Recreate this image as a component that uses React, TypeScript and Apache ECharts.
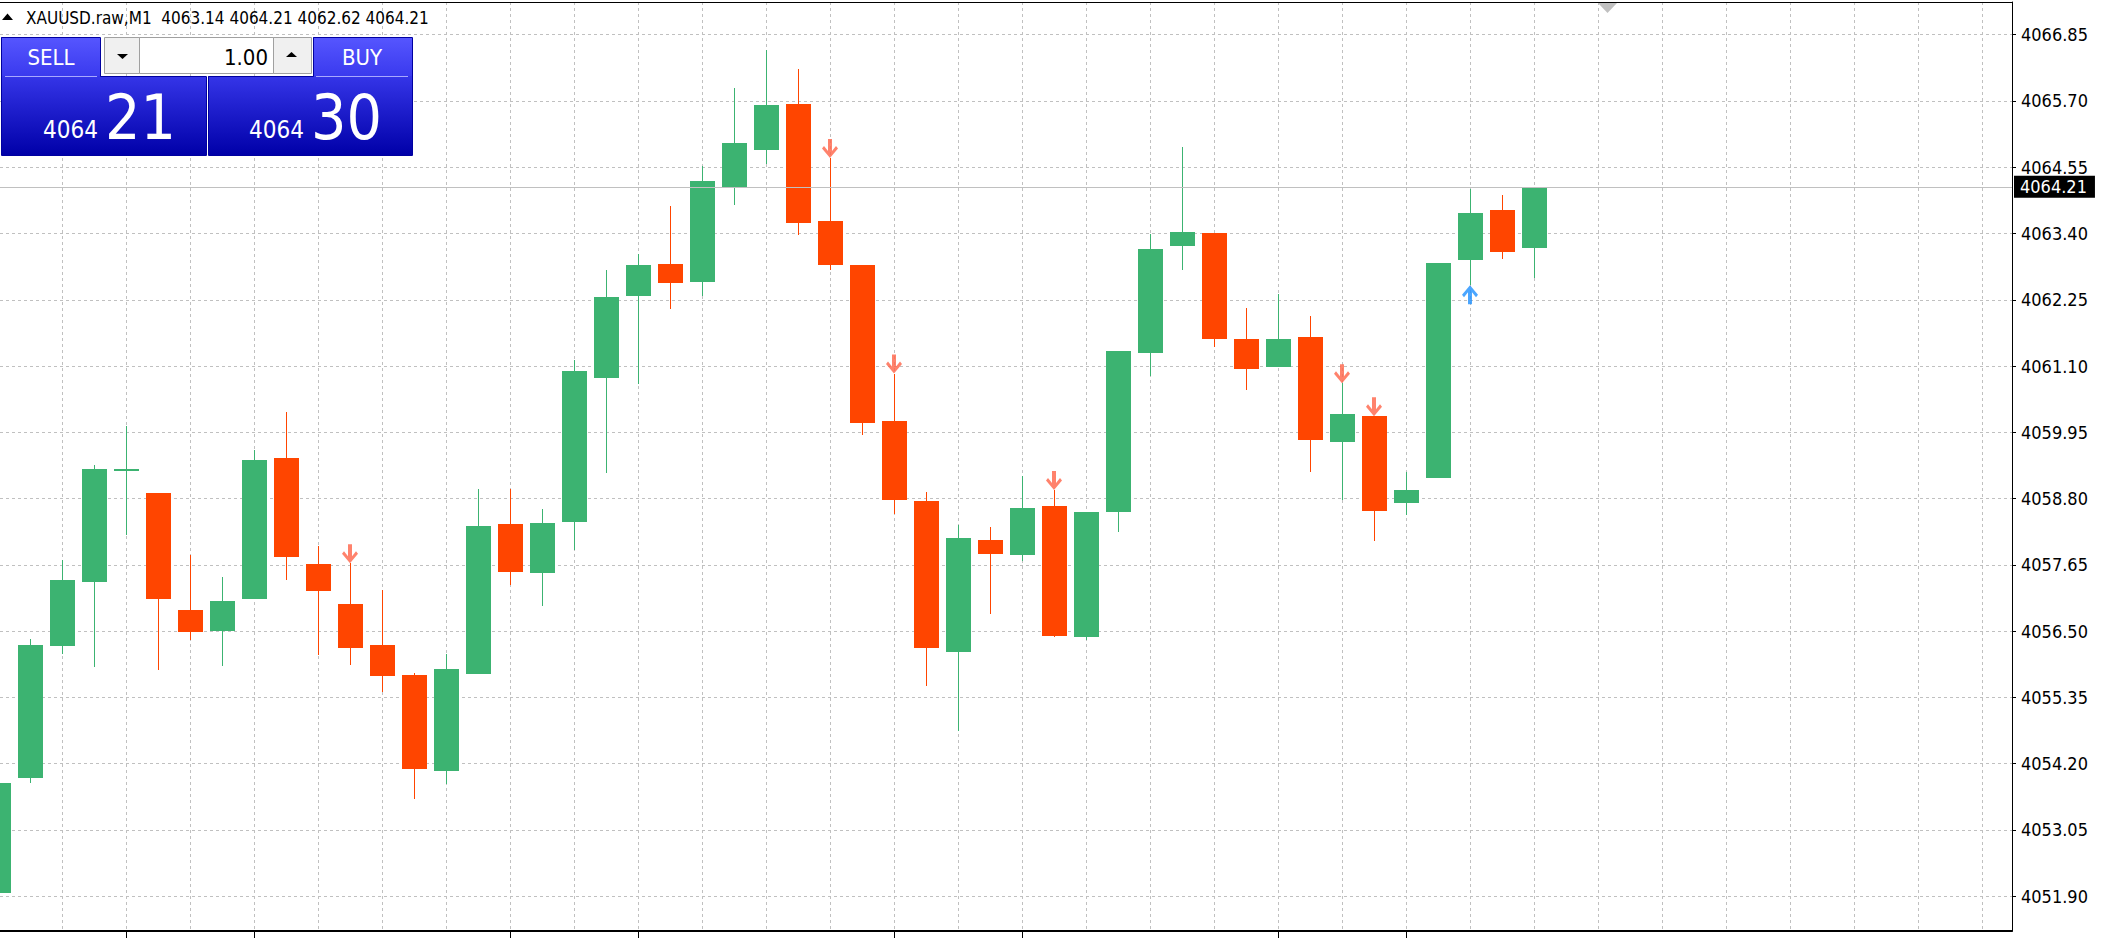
import React, { useEffect, useRef } from "react";
import * as echarts from "echarts";

// ---------- data ----------
const SYMBOL = "XAUUSD.raw";
const PERIOD = "M1";

const OPEN = [
  4051.95, 4053.95, 4056.25, 4057.36, 4059.30, 4058.90, 4056.87, 4056.51, 4057.06, 4059.51,
  4057.67, 4056.97, 4056.26, 4055.74, 4054.08, 4055.76, 4058.36, 4057.51, 4058.40, 4060.89,
  4062.32, 4062.87, 4062.56, 4064.21, 4064.85, 4065.65, 4063.62, 4062.85, 4060.15, 4058.75,
  4056.14, 4058.08, 4057.83, 4058.67, 4056.40, 4058.57, 4061.33, 4063.18, 4063.41, 4061.57,
  4061.08, 4061.60, 4059.78, 4060.23, 4058.72, 4059.16, 4062.94, 4063.81, 4063.14,
];
const HIGH = [
  4053.90, 4056.37, 4057.73, 4059.38, 4060.06, 4058.90, 4057.82, 4057.44, 4059.64, 4060.30,
  4057.98, 4057.68, 4057.22, 4055.78, 4056.11, 4058.97, 4058.97, 4058.62, 4061.21, 4062.77,
  4063.04, 4063.88, 4064.57, 4065.93, 4066.58, 4066.25, 4064.71, 4062.85, 4060.97, 4058.91,
  4058.34, 4058.31, 4059.19, 4058.95, 4058.57, 4061.36, 4063.40, 4064.90, 4063.41, 4062.11,
  4062.35, 4061.97, 4060.80, 4060.23, 4059.26, 4062.89, 4064.17, 4064.07, 4064.21,
];
const LOW = [
  4051.88, 4053.86, 4056.11, 4055.87, 4058.17, 4055.83, 4056.35, 4055.89, 4057.06, 4057.39,
  4056.09, 4055.92, 4055.45, 4053.58, 4053.85, 4055.76, 4057.30, 4056.94, 4057.90, 4059.24,
  4060.78, 4062.09, 4062.32, 4063.90, 4064.61, 4063.38, 4062.77, 4059.90, 4058.53, 4055.55,
  4054.77, 4056.80, 4057.72, 4056.39, 4056.35, 4058.22, 4060.92, 4062.77, 4061.43, 4060.68,
  4061.08, 4059.26, 4058.78, 4058.06, 4058.52, 4059.16, 4062.50, 4062.96, 4062.62,
];
const CLOSE = [
  4053.87, 4056.26, 4057.39, 4059.31, 4059.31, 4057.06, 4056.49, 4057.03, 4059.47, 4057.79,
  4057.20, 4056.21, 4055.73, 4054.10, 4055.85, 4058.33, 4057.53, 4058.38, 4061.01, 4062.30,
  4062.85, 4062.54, 4064.31, 4064.97, 4065.63, 4063.58, 4062.85, 4060.11, 4058.78, 4056.21,
  4058.12, 4057.84, 4058.64, 4056.42, 4058.57, 4061.36, 4063.13, 4063.43, 4061.57, 4061.05,
  4061.57, 4059.82, 4060.27, 4058.59, 4058.95, 4062.89, 4063.76, 4063.08, 4064.21,
];

// signal arrows (candle indices): sell arrows sit on the high, buy arrows under the low
const SELL_ARROWS = [11, 26, 28, 33, 42, 43];
const BUY_ARROWS = [46];

const PRICE_TICKS = [
  4051.9, 4053.05, 4054.2, 4055.35, 4056.5, 4057.65, 4058.8,
  4059.95, 4061.1, 4062.25, 4063.4, 4064.55, 4065.7, 4066.85,
];
const TIME_TICKS = [4, 8, 16, 20, 28, 32, 40, 44];
const GRID_COLS = Array.from({ length: 32 }, (_, k) => k * 2);

const BID = 4064.21;
const ASK = 4064.3;
const LOT = 1.0;

const Y_MIN = 4051.297;
const Y_MAX = 4067.417;
const X_MIN = 0.0625;
const X_MAX = 62.9375;

// ---------- style ----------
const GREEN = "#3CB371";
const RED = "#FF4500";
const GRID_COLOR = "#C0C0C0";
const FONT = "'DejaVu Sans Condensed', 'DejaVu Sans', sans-serif";
const BIG_FONT = "'Liberation Sans Narrow', 'DejaVu Sans Condensed', sans-serif";

const DOWN_ARROW = "path://M6 0L10 0L10 12L14 7L16 9.5L8 19L0 9.5L2 7L6 12Z";
const UP_ARROW = "path://M6 19L10 19L10 7L14 12L16 9.5L8 0L0 9.5L2 12L6 7Z";

function splitPrice(p: number): [string, string] {
  const s = p.toFixed(2).split(".");
  return [s[0], s[1]];
}

function buildOption(): any {
  const candles = OPEN.map((o, i) => [i, o, CLOSE[i], LOW[i], HIGH[i]]);
  const last = OPEN.length - 1;
  const title =
    `${SYMBOL},${PERIOD}  ${OPEN[last].toFixed(2)} ${HIGH[last].toFixed(2)} ` +
    `${LOW[last].toFixed(2)} ${CLOSE[last].toFixed(2)}`;
  const [bidBig, bidSmall] = splitPrice(BID);
  const [askBig, askSmall] = splitPrice(ASK);

  const tabGrad = () =>
    new echarts.graphic.LinearGradient(0, 0, 0, 1, [
      { offset: 0, color: "#5656FF" },
      { offset: 1, color: "#3A3AEE" },
    ]);
  const blockGrad = () =>
    new echarts.graphic.LinearGradient(0, 0, 0, 1, [
      { offset: 0, color: "#3535E8" },
      { offset: 1, color: "#0000A8" },
    ]);

  const white = "#FFFFFF";

  return {
    animation: false,
    backgroundColor: "#FFFFFF",
    grid: { left: 0, right: 93, top: 2, bottom: 7, containLabel: false, outerBoundsMode: "none" },
    xAxis: [
      {
        type: "value",
        min: X_MIN,
        max: X_MAX,
        position: "bottom",
        axisLine: { show: true, onZero: false, lineStyle: { color: "#000", width: 2 } },
        axisTick: {
          show: true,
          customValues: TIME_TICKS,
          length: 7,
          lineStyle: { color: "#000", width: 1 },
        },
        axisLabel: { show: false },
        splitLine: { show: false },
      },
      {
        type: "value",
        min: X_MIN,
        max: X_MAX,
        position: "top",
        axisLine: { show: true, onZero: false, lineStyle: { color: "#000", width: 1 } },
        axisTick: { show: false, customValues: GRID_COLS },
        axisLabel: { show: false },
        splitLine: { show: true, lineStyle: { color: GRID_COLOR, type: [3, 3], width: 1 } },
      },
    ],
    yAxis: {
      type: "value",
      position: "right",
      min: Y_MIN,
      max: Y_MAX,
      axisLine: { show: true, onZero: false, lineStyle: { color: "#000", width: 1 } },
      axisTick: {
        show: true,
        customValues: PRICE_TICKS,
        length: 4,
        lineStyle: { color: "#000", width: 1 },
      },
      axisLabel: {
        show: true,
        customValues: PRICE_TICKS,
        formatter: (v: number) => v.toFixed(2),
        color: "#000",
        fontSize: 18,
        fontFamily: FONT,
        margin: 9,
      },
      splitLine: { show: true, lineStyle: { color: GRID_COLOR, type: [3, 3], width: 1 } },
    },
    series: [
      {
        type: "custom",
        name: "candles",
        xAxisIndex: 0,
        yAxisIndex: 0,
        clip: false,
        dimensions: ["i", "open", "close", "low", "high"],
        encode: { x: 0, y: [1, 2, 3, 4] },
        data: candles,
        z: 3,
        renderItem: (params: any, api: any) => {
          const i = api.value(0);
          const o = api.value(1);
          const c = api.value(2);
          const l = api.value(3);
          const h = api.value(4);
          const pO = api.coord([i, o]);
          const pC = api.coord([i, c]);
          const pH = api.coord([i, h]);
          const pL = api.coord([i, l]);
          const cx = Math.round(pO[0]);
          const band = api.size([1, 0])[0];
          const bw = Math.round(band * 0.78);
          const color = c >= o ? GREEN : RED;
          const top = Math.round(Math.min(pO[1], pC[1]));
          const bot = Math.round(Math.max(pO[1], pC[1]));
          const bh = Math.max(bot - top, 2);
          const wy = Math.round(pH[1]);
          const wh = Math.max(Math.round(pL[1]) - wy, 1);
          return {
            type: "group",
            children: [
              { type: "rect", shape: { x: cx, y: wy, width: 1, height: wh }, style: { fill: color } },
              {
                type: "rect",
                shape: { x: cx - Math.floor(bw / 2), y: top, width: bw, height: bh },
                style: { fill: color },
              },
            ],
          };
        },
        markLine: {
          silent: true,
          animation: false,
          symbol: ["none", "none"],
          data: [{ yAxis: BID }],
          lineStyle: { color: GRID_COLOR, type: "solid", width: 1 },
          label: {
            show: true,
            position: "end",
            distance: 2,
            formatter: () => BID.toFixed(2),
            backgroundColor: "#000",
            color: "#FFF",
            fontSize: 18,
            fontFamily: FONT,
            padding: [2, 8, 2, 6],
          },
        },
      },
      {
        type: "scatter",
        name: "sell signals",
        xAxisIndex: 0,
        clip: false,
        z: 4,
        symbol: DOWN_ARROW,
        symbolSize: [16, 19],
        symbolOffset: [0, -9.5],
        itemStyle: { color: "#FF6347" },
        data: SELL_ARROWS.map((i) => [i, HIGH[i]]),
      },
      {
        type: "scatter",
        name: "buy signals",
        xAxisIndex: 0,
        clip: false,
        z: 4,
        symbol: UP_ARROW,
        symbolSize: [16, 19],
        symbolOffset: [0, 9.5],
        itemStyle: { color: "#1E90FF" },
        data: BUY_ARROWS.map((i) => [i, LOW[i]]),
      },
    ],
    graphic: [
      // chart-shift marker
      { type: "polygon", z: 20, shape: { points: [[1598, 3], [1617, 3], [1607.5, 13]] }, style: { fill: "#C0C0C0" } },
      // title row
      { type: "polygon", z: 20, shape: { points: [[2, 20], [13, 20], [7.5, 13.5]] }, style: { fill: "#000" } },
      {
        type: "text",
        z: 20,
        x: 26,
        y: 18,
        style: { text: title, fill: "#000", font: `17px ${FONT}`, verticalAlign: "middle", align: "left" },
      },
      // SELL block
      { type: "rect", z: 20, shape: { x: 1, y: 76, width: 205, height: 79 }, style: { fill: blockGrad() } },
      { type: "rect", z: 20, shape: { x: 1, y: 37, width: 99, height: 39 }, style: { fill: tabGrad() } },
      {
        type: "polygon",
        z: 21,
        shape: { points: [[1.5, 37.5], [100.5, 37.5], [100.5, 76.5], [206.5, 76.5], [206.5, 155.5], [1.5, 155.5]] },
        style: { fill: "none", stroke: "#0000A0", lineWidth: 1 },
      },
      { type: "line", z: 22, shape: { x1: 5, y1: 76.5, x2: 97, y2: 76.5 }, style: { stroke: "#A8A8FF", lineWidth: 1 } },
      // BUY block
      { type: "rect", z: 20, shape: { x: 208, y: 76, width: 204, height: 79 }, style: { fill: blockGrad() } },
      { type: "rect", z: 20, shape: { x: 313, y: 37, width: 99, height: 39 }, style: { fill: tabGrad() } },
      {
        type: "polygon",
        z: 21,
        shape: { points: [[412.5, 37.5], [313.5, 37.5], [313.5, 76.5], [208.5, 76.5], [208.5, 155.5], [412.5, 155.5]] },
        style: { fill: "none", stroke: "#0000A0", lineWidth: 1 },
      },
      { type: "line", z: 22, shape: { x1: 316, y1: 76.5, x2: 408, y2: 76.5 }, style: { stroke: "#A8A8FF", lineWidth: 1 } },
      // lot box
      {
        type: "rect",
        z: 20,
        shape: { x: 104.5, y: 37.5, width: 207, height: 36 },
        style: { fill: "#F0F0F0", stroke: "#A0A0A0", lineWidth: 1 },
      },
      {
        type: "rect",
        z: 21,
        shape: { x: 139.5, y: 37.5, width: 134, height: 36 },
        style: { fill: "#FFFFFF", stroke: "#A0A0A0", lineWidth: 1 },
      },
      { type: "polygon", z: 22, shape: { points: [[117, 54], [128, 54], [122.5, 59]] }, style: { fill: "#000" } },
      { type: "polygon", z: 22, shape: { points: [[286, 57], [297, 57], [291.5, 52]] }, style: { fill: "#000" } },
      {
        type: "text",
        z: 22,
        x: 268,
        y: 57,
        style: { text: LOT.toFixed(2), fill: "#000", font: `22px ${FONT}`, align: "right", verticalAlign: "middle" },
      },
      // labels
      {
        type: "text",
        z: 22,
        x: 51,
        y: 57,
        style: { text: "SELL", fill: white, font: `22px ${FONT}`, align: "center", verticalAlign: "middle" },
      },
      {
        type: "text",
        z: 22,
        x: 362,
        y: 57,
        style: { text: "BUY", fill: white, font: `22px ${FONT}`, align: "center", verticalAlign: "middle" },
      },
      {
        type: "text",
        z: 22,
        x: 43,
        y: 130,
        style: { text: bidBig, fill: white, font: `24px ${FONT}`, align: "left", verticalAlign: "middle" },
      },
      {
        type: "text",
        z: 22,
        x: 105,
        y: 117,
        style: { text: bidSmall, fill: white, font: `62px ${BIG_FONT}`, align: "left", verticalAlign: "middle" },
      },
      {
        type: "text",
        z: 22,
        x: 249,
        y: 130,
        style: { text: askBig, fill: white, font: `24px ${FONT}`, align: "left", verticalAlign: "middle" },
      },
      {
        type: "text",
        z: 22,
        x: 311,
        y: 117,
        style: { text: askSmall, fill: white, font: `62px ${BIG_FONT}`, align: "left", verticalAlign: "middle" },
      },
    ],
  };
}

export default function App() {
  const ref = useRef<HTMLDivElement | null>(null);
  useEffect(() => {
    if (!ref.current) return;
    const chart = echarts.init(ref.current, null, { renderer: "svg" });
    chart.setOption(buildOption());
    return () => {
      chart.dispose();
    };
  }, []);
  return (
    <div
      ref={ref}
      style={{ position: "fixed", left: 0, top: 0, width: 2105, height: 938, background: "#FFFFFF" }}
    />
  );
}
